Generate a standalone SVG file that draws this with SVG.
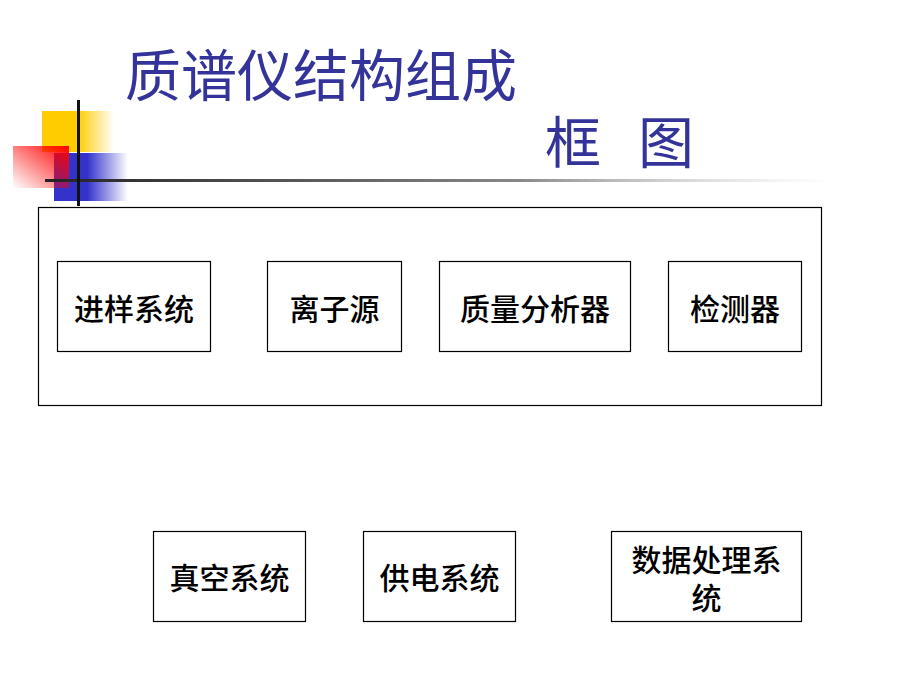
<svg xmlns="http://www.w3.org/2000/svg" width="920" height="690" viewBox="0 0 920 690">
<defs>
<linearGradient id="gy" x1="0" y1="0" x2="1" y2="0"><stop offset="0" stop-color="#FFCC00"/><stop offset="0.5" stop-color="#FFCC00"/><stop offset="1" stop-color="#FFCC00" stop-opacity="0"/></linearGradient>
<linearGradient id="gb" x1="0" y1="0" x2="1" y2="0"><stop offset="0" stop-color="#3333CC"/><stop offset="0.45" stop-color="#3333CC"/><stop offset="1" stop-color="#3333CC" stop-opacity="0"/></linearGradient>
<linearGradient id="gr" x1="1" y1="0" x2="0" y2="1"><stop offset="0" stop-color="#FF0000"/><stop offset="1" stop-color="#FF0000" stop-opacity="0"/></linearGradient>
<linearGradient id="gl" x1="0" y1="0" x2="1" y2="0"><stop offset="0" stop-color="#222222"/><stop offset="0.6" stop-color="#888888"/><stop offset="1" stop-color="#cccccc" stop-opacity="0"/></linearGradient>
</defs>
<style>
.title{font-family:"Noto Sans CJK SC","Liberation Serif",serif;font-size:56px;fill:#333399;}
.box{fill:#fff;stroke:#000;stroke-width:1.2;}
.lbl{font-family:"Noto Sans CJK SC",sans-serif;font-size:30px;fill:#000;text-anchor:middle;font-weight:500;}
</style>
<rect width="920" height="690" fill="#fff"/>
<g id="decor">
<rect x="42" y="111" width="72" height="41" fill="url(#gy)"/>
<rect x="54" y="153" width="74" height="48" fill="url(#gb)"/>
<rect x="13" y="146" width="56" height="42" fill="url(#gr)"/>
<rect x="45" y="179" width="790" height="3" fill="url(#gl)"/>
<rect x="77" y="100" width="3" height="106" fill="#111"/>
</g>
<g id="title">
<text class="title" x="125" y="96">质谱仪结构组成</text>
<text class="title" x="545" y="163">框</text>
<text class="title" x="638" y="163">图</text>
</g>
<g id="frame"><rect class="box" x="38.5" y="207.5" width="783" height="198"/></g>
<g id="n1"><rect class="box" x="57.5" y="261.5" width="153" height="90"/><text class="lbl" x="134" y="320">进样系统</text></g>
<g id="n2"><rect class="box" x="267.5" y="261.5" width="134" height="90"/><text class="lbl" x="334.5" y="320">离子源</text></g>
<g id="n3"><rect class="box" x="439.5" y="261.5" width="191" height="90"/><text class="lbl" x="535" y="320">质量分析器</text></g>
<g id="n4"><rect class="box" x="668.5" y="261.5" width="133" height="90"/><text class="lbl" x="735" y="320">检测器</text></g>
<g id="n5"><rect class="box" x="153.5" y="531.5" width="152" height="90"/><text class="lbl" x="229.5" y="589">真空系统</text></g>
<g id="n6"><rect class="box" x="363.5" y="531.5" width="152" height="90"/><text class="lbl" x="439.5" y="589">供电系统</text></g>
<g id="n7"><rect class="box" x="611.5" y="531.5" width="190" height="90"/><text class="lbl" x="706.5" y="571">数据处理系<tspan x="706.5" dy="38">统</tspan></text></g>
<g id="connectors"></g>
</svg>
